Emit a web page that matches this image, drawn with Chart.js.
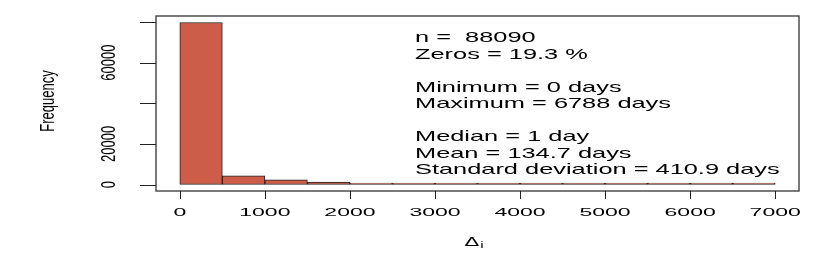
<!DOCTYPE html>
<html>
<head>
<meta charset="utf-8">
<script src="https://cdn.jsdelivr.net/npm/chart.js@4/dist/chart.umd.min.js"></script>
<style>
    html, body { margin: 0; padding: 0; background: #fff; }
    canvas { display: block; }
</style>
</head>
<body>
<canvas id="hist" width="830" height="273"></canvas>
<script>
// histogram bins (left edges, width 500 days) and their counts
const binStarts = [0, 500, 1000, 1500, 2000, 2500, 3000, 3500, 4000, 4500, 5000, 5500, 6000, 6500];
const binWidth = 500;
const counts = [79800, 4290, 2300, 1180, 300, 30, 15, 10, 6, 4, 2, 1, 1, 1];

const xTicks = [0, 1000, 2000, 3000, 4000, 5000, 6000, 7000];
const yTicks = [0, 20000, 40000, 60000, 80000];
const yTickLabels = ["0", "20000", "", "60000", ""];

const statsLines = [
    "n =  88090",
    "Zeros = 19.3 %",
    "",
    "Minimum = 0 days",
    "Maximum = 6788 days",
    "",
    "Median = 1 day",
    "Mean = 134.7 days",
    "Standard deviation = 410.9 days"
];

const FONT = "'Liberation Sans', Arial, Helvetica, sans-serif";

// the picture is stretched sideways, so text is drawn with a horizontal scale
const stretchText = (ctx, text, x, y, size, sx, align, rot) => {
    ctx.save();
    ctx.translate(x, y);
    ctx.scale(sx, 1);
    if (rot) {
        ctx.rotate(rot);
    }
    ctx.font = `${size}px ${FONT}`;
    ctx.textAlign = align;
    ctx.textBaseline = "middle";
    ctx.fillStyle = "#000";
    ctx.fillText(text, 0, 0);
    ctx.restore();
};

const rFrame = {
    id: "rFrame",
    afterDraw(chart) {
        const { ctx, chartArea: a, scales } = chart;
        const xs = scales.x;
        const ys = scales.y;

        ctx.save();
        ctx.strokeStyle = "#333";
        ctx.lineWidth = 1.3;
        ctx.strokeRect(a.left, a.top, a.right - a.left, a.bottom - a.top);

        ctx.lineWidth = 1;
        ctx.strokeStyle = "#222";
        ctx.beginPath();
        xTicks.forEach(v => {
            const px = Math.round(xs.getPixelForValue(v)) + 0.5;
            ctx.moveTo(px, a.bottom);
            ctx.lineTo(px, a.bottom + 8);
        });
        yTicks.forEach(v => {
            const py = Math.round(ys.getPixelForValue(v)) + 0.5;
            ctx.moveTo(a.left, py);
            ctx.lineTo(a.left - 16, py);
        });
        ctx.stroke();
        ctx.restore();

        xTicks.forEach(v => {
            stretchText(ctx, String(v), xs.getPixelForValue(v), 213, 11.5, 2.0, "center");
        });
        yTicks.forEach((v, i) => {
            if (yTickLabels[i]) {
                stretchText(ctx, yTickLabels[i], 109, ys.getPixelForValue(v), 13, 1.6, "center", -Math.PI / 2);
            }
        });

        stretchText(ctx, "Frequency", 48, 101, 13, 1.6, "center", -Math.PI / 2);

        // x axis title: Delta with subscript i
        stretchText(ctx, "\u0394", 472, 242, 13, 1.7, "center");
        stretchText(ctx, "i", 482, 246, 9, 1.7, "center");

        let y = 38;
        statsLines.forEach(line => {
            if (line) {
                stretchText(ctx, line, 415, y, 14.5, 1.75, "left");
            }
            y += 16.5;
        });
    }
};

new Chart(document.getElementById("hist"), {
    type: "bar",
    data: {
        datasets: [{
            data: binStarts.map((s, i) => ({ x: s + binWidth / 2, y: counts[i] })),
            backgroundColor: "#CD5C48",
            borderColor: "#222",
            borderWidth: 1,
            borderSkipped: false,
            minBarLength: 1.5,
            barPercentage: 1,
            categoryPercentage: 1
        }]
    },
    options: {
        responsive: false,
        animation: false,
        devicePixelRatio: 1,
        layout: { padding: { left: 156, top: 16, right: 31, bottom: 82 } },
        plugins: { legend: { display: false }, tooltip: { enabled: false } },
        scales: {
            x: { type: "linear", min: -280, max: 7280, offset: false, display: false },
            y: { min: -3190, max: 82990, display: false }
        }
    },
    plugins: [rFrame]
});
</script>
</body>
</html>
